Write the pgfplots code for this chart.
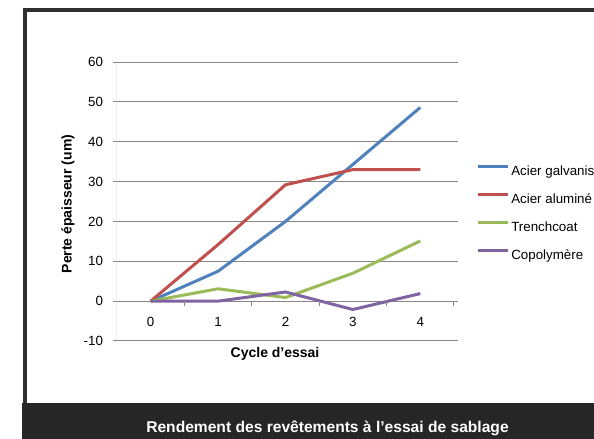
\documentclass[border=0pt]{standalone}
\usepackage{fontspec}
\setmainfont{Liberation Sans}
\usepackage{pgfplots}
\pgfplotsset{compat=1.18}
\definecolor{cBlue}{HTML}{4F81BD}
\definecolor{cRed}{HTML}{C0504D}
\definecolor{cGreen}{HTML}{9BBB59}
\definecolor{cPurple}{HTML}{8064A2}
\definecolor{gridc}{HTML}{878787}
\definecolor{bandc}{HTML}{262626}
\definecolor{framec}{HTML}{303030}
\begin{document}
\begin{tikzpicture}
\begin{scope}[x=0.75pt,y=0.75pt]
\fill[white] (0,0) rectangle (594,439);
\fill[bandc] (22,0) rectangle (600,36);
\draw[framec, line width=2.625pt] (24.75,36) -- (24.75,428.75) -- (600,428.75);
\node[white, anchor=base, inner sep=0pt, font=\bfseries\fontsize{11.7pt}{14pt}\selectfont] at (327.5,6) {Rendement des revêtements à l’essai de sablage};
\end{scope}
\begin{axis}[
  at={(87.75pt,73.5pt)}, anchor=south west,
  scale only axis, width=252.75pt, height=209.25pt,
  xmin=-0.5, xmax=4.5, ymin=-10, ymax=60,
  xtick={0,1,2,3,4}, xticklabels={0,1,2,3,4},
  ytick={-10,0,10,20,30,40,50,60}, yticklabels={-10,0,10,20,30,40,50,60},
  ymajorgrids, grid style={gridc, line width=0.75pt},
  axis line style={draw=none},
  tick align=outside, major tick length=3pt,
  xtick style={draw=none}, ytick style={gridc, line width=0.75pt},
  tick label style={font=\fontsize{10pt}{12pt}\selectfont, text=black},
  yticklabel style={xshift=-4pt},
  xticklabel style={anchor=center, yshift=17.6pt},
  xlabel={Cycle d’essai}, ylabel={Perte épaisseur (um)},
  label style={font=\bfseries\fontsize{10.5pt}{12pt}\selectfont},
  xlabel style={at={(axis description cs:0.469,0)}, anchor=center, yshift=-9.75pt},
  ylabel style={at={(axis description cs:-0.1454,0.491)}, anchor=center},
  legend style={at={(axis description cs:1.0682,0.6351)}, anchor=north west,
    draw=none, fill=none, inner sep=0pt, outer sep=0pt, row sep=9.5pt,
    font=\fontsize{10pt}{12pt}\selectfont,
    nodes={inner sep=0pt, inner xsep=1pt, text height=9pt, text depth=2.5pt}},
  legend cell align=left,
  legend image code/.code={\draw[#1] (0pt,3.6pt) -- (22.5pt,3.6pt);},
  every axis plot/.append style={line width=2.25pt, line join=round, no markers},
]
\addplot[cBlue] coordinates {(0,0) (1,7.5) (2,20) (3,34.3) (4,48.6)};
\addlegendentry{Acier galvanisé}
\addplot[cRed] coordinates {(0,0) (1,14.2) (2,29.2) (3,33) (4,33)};
\addlegendentry{Acier aluminé}
\addplot[cGreen] coordinates {(0,0) (1,3.1) (2,0.9) (3,7) (4,15.1)};
\addlegendentry{Trenchcoat}
\addplot[cPurple] coordinates {(0,0) (1,0) (2,2.3) (3,-2.1) (4,1.9)};
\addlegendentry{Copolymère}
\draw[gridc, line width=0.75pt] (axis cs:-0.5,-10) -- (axis cs:-0.5,60);
\draw[gridc, line width=0.75pt]
  (axis cs:0.5,0) -- ++(0pt,-3.5pt)
  (axis cs:1.5,0) -- ++(0pt,-3.5pt)
  (axis cs:2.5,0) -- ++(0pt,-3.5pt)
  (axis cs:3.5,0) -- ++(0pt,-3.5pt)
  (axis cs:4.5,0) -- ++(0pt,-3.5pt);
\end{axis}
\pgfresetboundingbox
\path[use as bounding box] (0pt,0pt) rectangle (445.5pt,329.25pt);
\end{tikzpicture}
\end{document}
